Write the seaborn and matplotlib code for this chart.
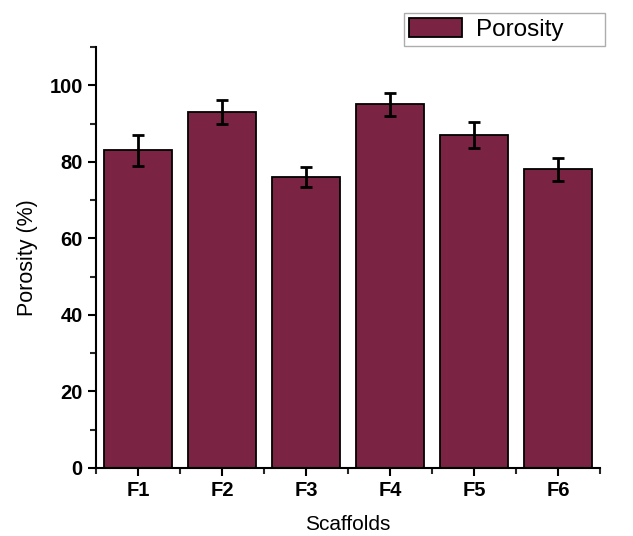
import matplotlib
matplotlib.use("Agg")
import matplotlib.pyplot as plt
from matplotlib.patches import Patch
from matplotlib.ticker import MultipleLocator
import numpy as np
import pandas as pd
import seaborn as sns

scaffolds = ["F1", "F2", "F3", "F4", "F5", "F6"]
porosity = [83, 93, 76, 95, 87, 78]
porosity_err = [4.0, 3.2, 2.7, 3.0, 3.5, 3.0]

bar_color = "#7a2343"

sns.set_style("ticks")
plt.rcParams["font.family"] = ["Liberation Sans", "DejaVu Sans"]

data = pd.DataFrame({"scaffold": scaffolds, "porosity": porosity})

fig = plt.figure(figsize=(6.33, 5.36), dpi=100)
ax = fig.add_axes([0.1517, 0.1269, 0.7962, 0.7854])

sns.barplot(data=data, x="scaffold", y="porosity", color=bar_color,
            saturation=1, width=0.8, edgecolor="black", linewidth=1.3, ax=ax)

centers = [p.get_x() + p.get_width() / 2 for p in ax.patches]
ax.errorbar(centers, porosity, yerr=porosity_err, fmt="none", ecolor="black",
            elinewidth=2, capsize=4.5, capthick=2)

ax.set_xlim(-0.5, 5.5)
ax.set_ylim(0, 110)
ax.yaxis.set_major_locator(MultipleLocator(20))
ax.yaxis.set_minor_locator(MultipleLocator(10))
ax.set_xticks(np.arange(len(scaffolds)))
ax.set_xticks(np.arange(-0.5, len(scaffolds)), minor=True)
ax.set_xticklabels(scaffolds)

sns.despine(ax=ax)
for side in ["left", "bottom"]:
    ax.spines[side].set_linewidth(1.5)
    ax.spines[side].set_color("black")
ax.tick_params(which="major", length=6, width=1.5, direction="out",
               labelsize=14.5, colors="black")
ax.tick_params(which="minor", length=4, width=1.5, direction="out")
for lbl in ax.get_xticklabels() + ax.get_yticklabels():
    lbl.set_fontweight("bold")

ax.set_xlabel("Scaffolds", fontsize=15, labelpad=11, color="black")
ax.set_ylabel("Porosity (%)", fontsize=15.5, labelpad=8, color="black")

handle = Patch(facecolor=bar_color, edgecolor="black", linewidth=1.3)
leg = ax.legend([handle], ["Porosity"], loc="center left",
                bbox_to_anchor=(0.611, 1.0095, 0.399, 0.064), mode="expand",
                fontsize=17.5, handlelength=2.2, handleheight=0.8,
                handletextpad=0.55, borderpad=0.2, borderaxespad=0,
                fancybox=False, frameon=True, labelcolor="black")
leg.get_frame().set_edgecolor("#999999")
leg.get_frame().set_linewidth(1.0)
leg.set_clip_on(False)

fig.savefig("out.png", dpi=100)
